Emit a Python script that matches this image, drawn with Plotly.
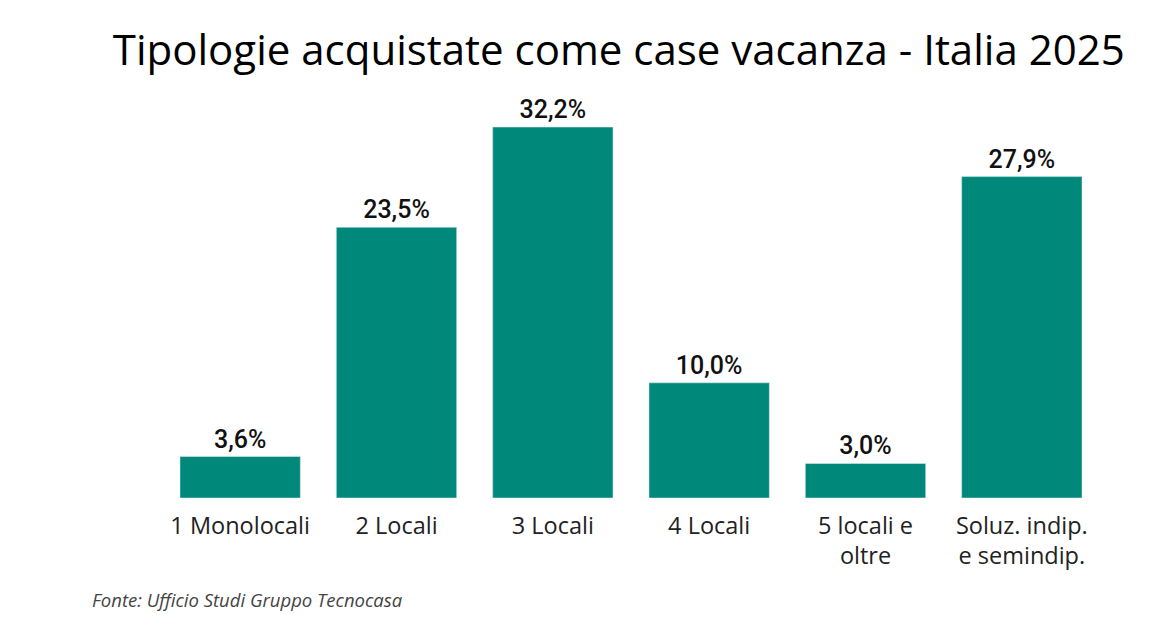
import plotly.graph_objects as go

categories = [
    "1 Monolocali",
    "2 Locali",
    "3 Locali",
    "4 Locali",
    "5 locali e<br>oltre",
    "Soluz. indip.<br>e semindip.",
]
shares = [3.6, 23.5, 32.2, 10.0, 3.0, 27.9]

fig = go.Figure(
    go.Bar(
        x=categories,
        y=shares,
        marker_color="#00897B",
        texttemplate="%{y:.1f}%",
        textposition="outside",
        textfont=dict(family="Roboto", size=25, color="#111", weight=500),
        cliponaxis=False,
    )
)

fig.update_layout(
    width=1170,
    height=630,
    separators=",.",
    title=dict(
        text="Tipologie acquistate come case vacanza - Italia 2025",
        x=0.522, xanchor="center",
        y=0.933, yanchor="middle",
        font=dict(family="Open Sans", size=42, color="#000"),
    ),
    margin=dict(l=154, r=78, t=92, b=140),
    paper_bgcolor="white",
    plot_bgcolor="white",
    bargap=0.23,
    showlegend=False,
    xaxis=dict(
        tickfont=dict(family="Open Sans", size=23.5, color="#222"),
        ticklabelstandoff=11,
        showline=False,
    ),
    yaxis=dict(range=[0, 34.55], visible=False),
)

fig.add_annotation(
    text="<i>Fonte: Ufficio Studi Gruppo Tecnocasa</i>",
    xref="paper", yref="paper",
    x=-0.077, y=-0.256,
    xanchor="left", yanchor="middle",
    showarrow=False,
    font=dict(family="Open Sans", size=18.5, color="#444"),
)

fig.write_html("out.html")
